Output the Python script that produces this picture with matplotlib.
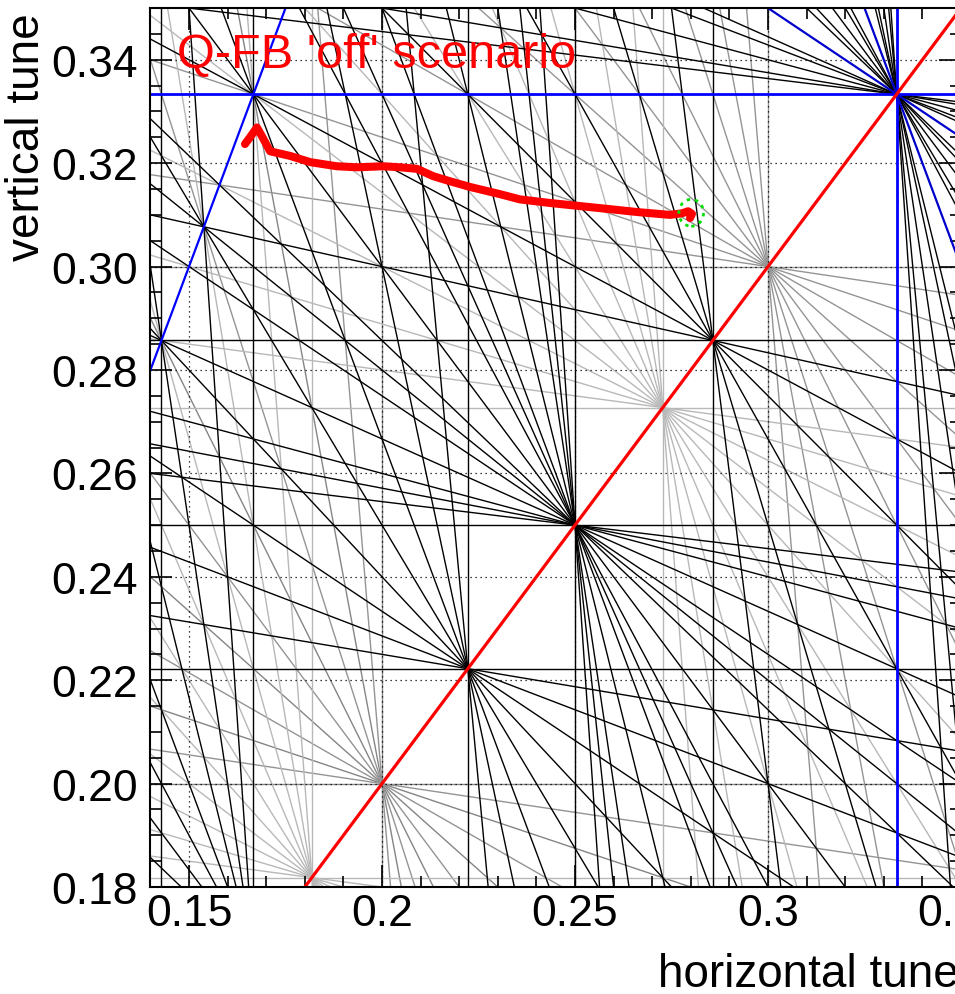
import math
import matplotlib
matplotlib.use("Agg")
import matplotlib.pyplot as plt
from matplotlib.patches import Ellipse
from matplotlib.ticker import MultipleLocator, FuncFormatter

plt.rcParams["font.family"] = ["Liberation Sans", "DejaVu Sans"]

qx_path = [0.1645, 0.1658, 0.1676, 0.1689, 0.1710, 0.1762, 0.1814, 0.1883,
           0.1935, 0.2003, 0.2047, 0.2091, 0.2132, 0.2176, 0.2228, 0.2306,
           0.2357, 0.2435, 0.2565, 0.2668, 0.2746, 0.2777, 0.2793, 0.2803, 0.2798]
qy_path = [0.3237, 0.3250, 0.3269, 0.3252, 0.3223, 0.3214, 0.3202, 0.3194,
           0.3192, 0.3194, 0.3192, 0.3189, 0.3175, 0.3165, 0.3154, 0.3140,
           0.3130, 0.3123, 0.3113, 0.3105, 0.3100, 0.3103, 0.3107, 0.3102, 0.3094]
end_tune = (0.2801, 0.3104)

# resonance lines m*Qx + n*Qy = p (sum resonances) up to this order
max_order = 12
order_grey = {5: "0.52", 10: "0.58", 11: "0.72"}   # others drawn black

x_range = (0.14, 0.35)
y_range = (0.18, 0.35)

fig = plt.figure(figsize=(9.55, 9.95), dpi=100)
ax = fig.add_axes([0.1575, 0.1075, 0.8488, 0.8834])
ax.set_xlim(*x_range)
ax.set_ylim(*y_range)

for order in range(1, max_order + 1):
    if order == 3:
        continue  # third order in blue below
    col = order_grey.get(order, "black")
    z = 1 if order in order_grey else 2
    for m in range(order + 1):
        n = order - m
        for p in range(1, order + 1):
            if math.gcd(math.gcd(m, n), p) != 1:
                continue
            lo = m * x_range[0] + n * y_range[0]
            hi = m * x_range[1] + n * y_range[1]
            if not (lo <= p <= hi):
                continue
            if n == 0:
                ax.axvline(p / m, color=col, lw=1.0, zorder=z)
            elif m == 0:
                ax.axhline(p / n, color=col, lw=1.0, zorder=z)
            else:
                ax.axline((0, p / n), slope=-m / n, color=col, lw=1.0, zorder=z)

# third order resonances
ax.axvline(1 / 3, color="blue", lw=2, zorder=4)
ax.axhline(1 / 3, color="blue", lw=2, zorder=4)
ax.axline((0, 1), slope=-2, color="#0000cc", lw=1.6, zorder=4)
ax.axline((0, 0.5), slope=-0.5, color="#0000cc", lw=1.6, zorder=4)
ax.axline((0, 0), slope=2, color="blue", lw=1.6, zorder=4)

# coupling resonance
ax.axline((0.2, 0.2), slope=1, color="red", lw=2.3, zorder=5)

# tune path
ax.plot(qx_path, qy_path, color="red", lw=5.8, solid_capstyle="round",
        solid_joinstyle="round", zorder=6)
ax.add_patch(Ellipse(end_tune, 0.0064, 0.0052, fill=False, ec="#00e000",
                     ls=(0, (1.2, 1.8)), lw=2, zorder=7))

ax.text(0.1469, 0.3386, "Q-FB 'off' scenario", color="red", fontsize=35,
        va="baseline", ha="left", zorder=8)

# axes cosmetics (ROOT style)
ax.xaxis.set_major_locator(MultipleLocator(0.05))
ax.xaxis.set_minor_locator(MultipleLocator(0.01))
ax.yaxis.set_major_locator(MultipleLocator(0.02))
ax.yaxis.set_minor_locator(MultipleLocator(0.005))
ax.xaxis.set_major_formatter(FuncFormatter(lambda v, pos: "%g" % round(v, 3)))
ax.yaxis.set_major_formatter(FuncFormatter(lambda v, pos: "%.2f" % v))
ax.tick_params(which="both", direction="in", top=True, right=True, width=1.2)
ax.tick_params(which="major", length=16)
ax.tick_params(which="minor", length=8)
ax.tick_params(axis="x", labelsize=32, pad=4)
ax.tick_params(axis="y", labelsize=32, pad=9)
ax.grid(True, which="major", color="black", ls=(0, (1, 3)), lw=0.9)
for s in ax.spines.values():
    s.set_linewidth(1.5)
    s.set_zorder(9)

fig.text(658 / 955, 8 / 995, "horizontal tune", fontsize=33, ha="left", va="baseline")
fig.text(5 / 955, 982 / 995, "vertical tune", fontsize=33, rotation=90,
         ha="left", va="top")

fig.savefig("out.png", dpi=100)
